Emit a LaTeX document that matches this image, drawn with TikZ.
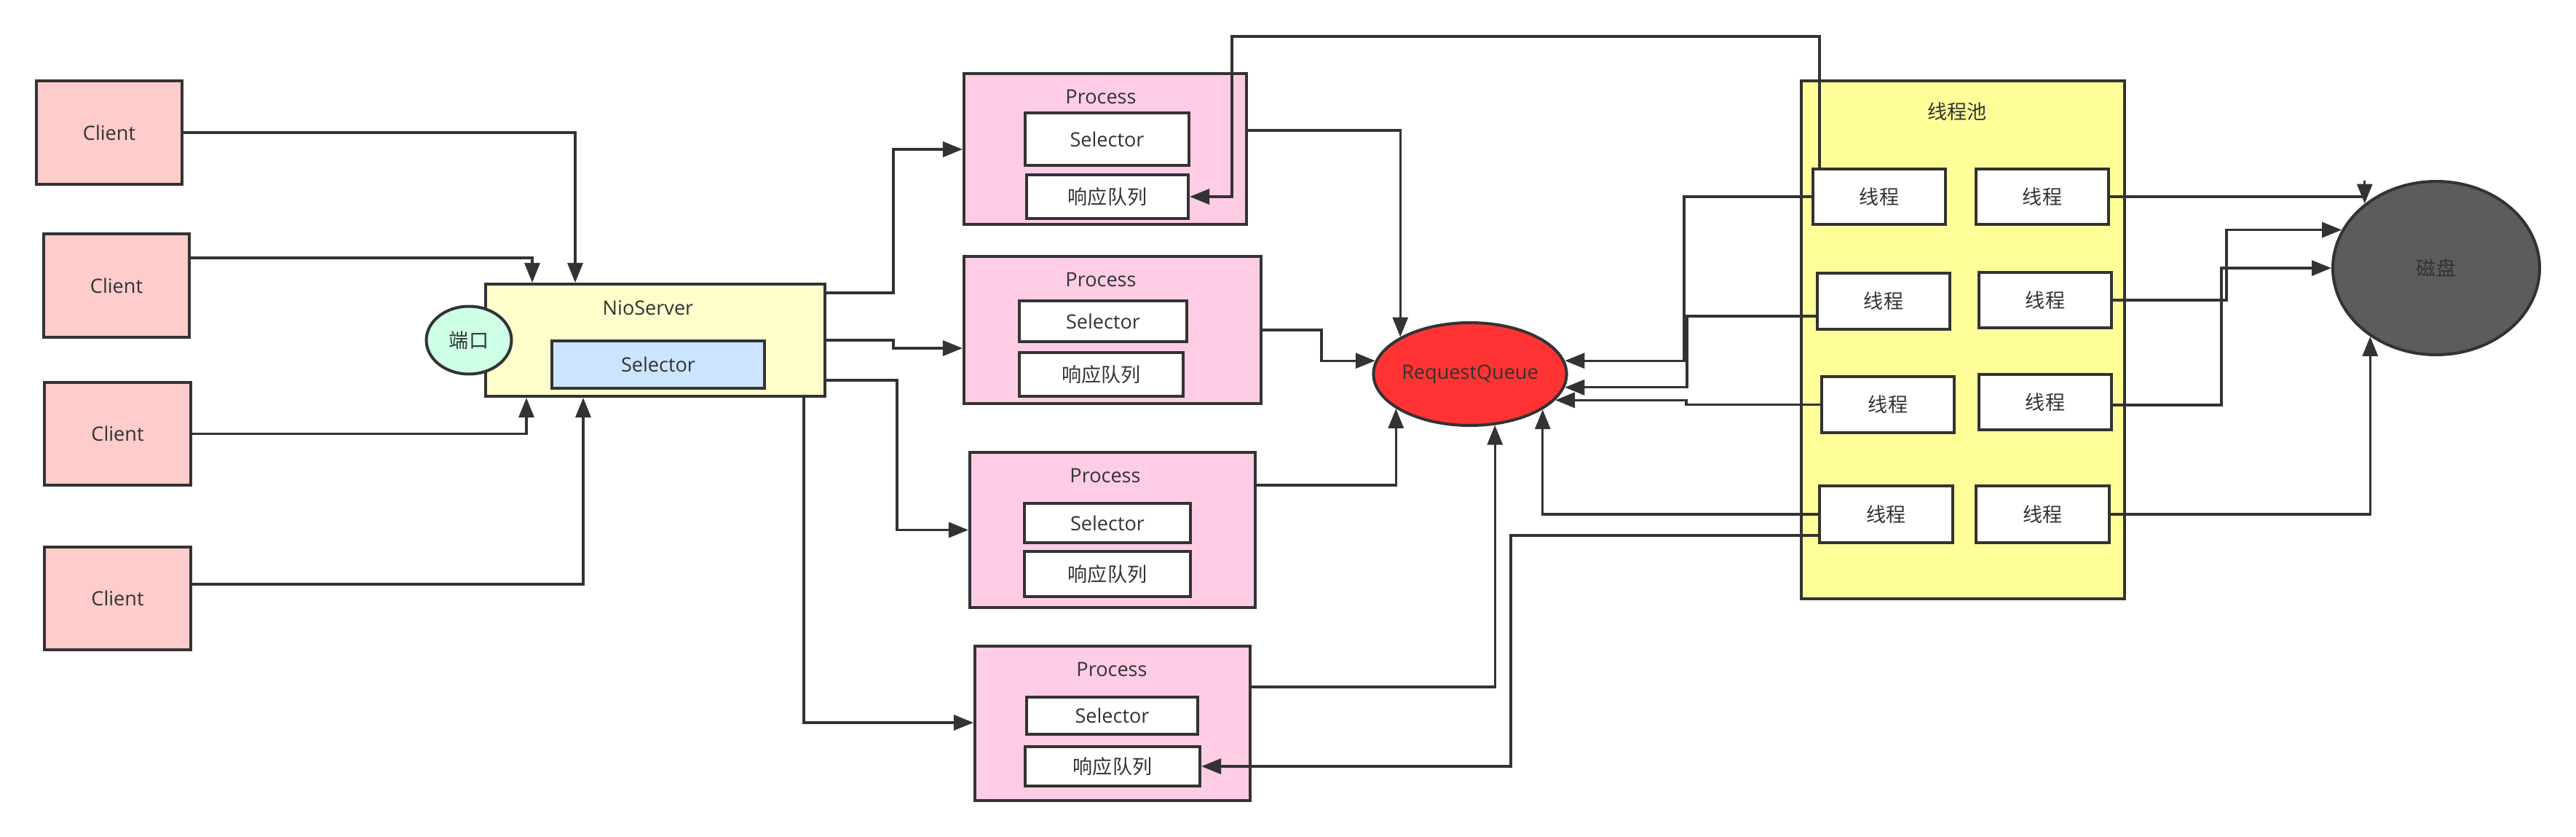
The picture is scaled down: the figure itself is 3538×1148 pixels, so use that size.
\documentclass[tikz,border=0pt]{standalone}
\usepackage{fontspec}
\setmainfont{Open Sans}
\newfontfamily\cjk{Noto Sans CJK SC}
\usetikzlibrary{arrows.meta,shapes.geometric,calc}
\definecolor{ink}{HTML}{333333}
\definecolor{clientc}{HTML}{FFCCCC}
\definecolor{nioc}{HTML}{FFFFCC}
\definecolor{selc}{HTML}{CCE5FF}
\definecolor{portc}{HTML}{CCFFE6}
\definecolor{procc}{HTML}{FFCCE6}
\definecolor{rqc}{HTML}{FF3333}
\definecolor{poolc}{HTML}{FFFF99}
\definecolor{diskc}{HTML}{5C5C5C}
\begin{document}
\begin{tikzpicture}[x=0.01cm,y=-0.01cm,
  wh/.style 2 args={minimum width=#1*0.01cm,minimum height=#2*0.01cm},
  box/.style={draw=ink,line width=0.04cm,inner sep=0pt,text=ink,font=\fontsize{7.7pt}{9pt}\selectfont},
  lbl/.style={text=ink,inner sep=0pt,font=\fontsize{7.7pt}{9pt}\selectfont},
  con/.style={draw=ink,line width=0.032cm},
  arr/.style={con,-{Triangle[length=0.27cm,width=0.21cm]}},
]
\fill[white] (0,0) rectangle (3538,1148);
\useasboundingbox (0,0) rectangle (3538,1148);

% clients
\node[box,fill=clientc,wh={200}{142}] (c1) at (150,182) {Client};
\node[box,fill=clientc,wh={200}{142}] (c2) at (160,392) {Client};
\node[box,fill=clientc,wh={201}{141}] (c3) at (161.5,595.5) {Client};
\node[box,fill=clientc,wh={201}{141}] (c4) at (161.5,821.5) {Client};

% NioServer
\node[box,fill=nioc,wh={466}{154}] (nio) at (900,467) {};
\node[lbl] (niot) at (890,423) {NioServer};
\node[box,fill=selc,wh={292}{65}] (nsel) at (904,500.5) {Selector};
\node[box,ellipse,fill=portc,wh={117}{93}] (port) at (644,467) {\cjk 端口};

% processes
\node[box,fill=procc,wh={388}{207}] (p1) at (1518,204.5) {};
\node[lbl] (p1t) at (1512,133) {Process};
\node[box,fill=white,wh={225}{72}] (s1) at (1520.5,191) {Selector};
\node[box,fill=white,wh={222}{60}] (r1) at (1521,270) {\cjk 响应队列};

\node[box,fill=procc,wh={408}{202}] (p2) at (1528,453) {};
\node[lbl] (p2t) at (1512,384) {Process};
\node[box,fill=white,wh={230}{56}] (s2) at (1515,441) {Selector};
\node[box,fill=white,wh={225}{60}] (r2) at (1512.5,514) {\cjk 响应队列};

\node[box,fill=procc,wh={392}{213}] (p3) at (1528,727.5) {};
\node[lbl] (p3t) at (1518,653) {Process};
\node[box,fill=white,wh={228}{54}] (s3) at (1521,718) {Selector};
\node[box,fill=white,wh={228}{62}] (r3) at (1521,788) {\cjk 响应队列};

\node[box,fill=procc,wh={378}{212}] (p4) at (1528,993) {};
\node[lbl] (p4t) at (1527,919) {Process};
\node[box,fill=white,wh={235}{51}] (s4) at (1527.5,982.5) {Selector};
\node[box,fill=white,wh={240}{54}] (r4) at (1528,1052) {\cjk 响应队列};

% request queue
\node[box,ellipse,fill=rqc,wh={248}{141}] (rq) at (2019,513.5) {RequestQueue};

% thread pool
\node[box,fill=poolc,wh={444}{711}] (pool) at (2696,466.5) {};
\node[lbl] (poolt) at (2688,153) {\cjk 线程池};
\node[box,fill=white,wh={182}{76}] (t1l) at (2581,270) {\cjk 线程};
\node[box,fill=white,wh={182}{76}] (t1r) at (2805,270) {\cjk 线程};
\node[box,fill=white,wh={182}{77}] (t2l) at (2587,413.5) {\cjk 线程};
\node[box,fill=white,wh={182}{76}] (t2r) at (2809,412) {\cjk 线程};
\node[box,fill=white,wh={182}{77}] (t3l) at (2593,555.5) {\cjk 线程};
\node[box,fill=white,wh={182}{76}] (t3r) at (2809,552) {\cjk 线程};
\node[box,fill=white,wh={183}{78}] (t4l) at (2590.5,706) {\cjk 线程};
\node[box,fill=white,wh={183}{78}] (t4r) at (2805.5,706) {\cjk 线程};

% disk
\node[box,ellipse,fill=diskc,wh={284}{238}] (disk) at (3346,368) {\cjk 磁盘};

% clients -> nio
\draw[arr] (c1.east) -| (nio.north -| 790,0);
\draw[arr] (c2.east |- 0,354) -| (nio.north -| 731,0);
\draw[arr] (c3.east) -| (nio.south -| 723,0);
\draw[arr] (c4.east |- 0,802) -| (nio.south -| 801,0);

% nio -> processes
\draw[arr] (nio.east |- 0,402) -| (1227,205) -- (p1.west |- 0,205);
\draw[arr] (nio.east |- 0,467) -| (1227,478) -- (p2.west |- 0,478);
\draw[arr] (nio.east |- 0,522) -| (1232,727.5) -- (p3.west);
\draw[arr] (nio.south -| 1104,0) |- (p4.west |- 0,992);

% processes -> request queue
\draw[arr] (p1.east |- 0,179) -| (rq.152);
\draw[arr] (p2.east |- 0,453) -- (1815,453) |- (rq.172);
\draw[arr] (p3.east |- 0,666) -| (rq.205);
\draw[arr] (p4.east |- 0,943) -| (rq.296);

% threads -> request queue
\draw[arr] (t1l.west) -- (t1l.west -| 2313,0) |- (rq.8);
\draw[arr] (t2l.west |- 0,434) -- (2317,434) |- (rq.352);
\draw[arr] (t3l.west) -- (2316,555.5) |- (rq.343);
\draw[arr] (t4l.west) -| (rq.334);
\draw[arr] (t4l.west |- 0,735) -| (r4.east -| 2075,0) -- (r4.east);

% thread -> first response queue
\draw[arr] (t1l.north -| 2499,0) |- (1692,50) |- (r1.east);

% threads -> disk
\draw[con] (t1r.east) -- (t1r.east -| disk.138);
\draw[arr] ($(disk.138)+(0,-32)$) -- (disk.138);
\draw[arr] (t2r.east) -- (3058,412) |- (disk.158);
\draw[arr] (t3r.east |- 0,556) -- (3051,556) |- (disk.west);
\draw[arr] (t4r.east) -| (disk.226);
\end{tikzpicture}
\end{document}
